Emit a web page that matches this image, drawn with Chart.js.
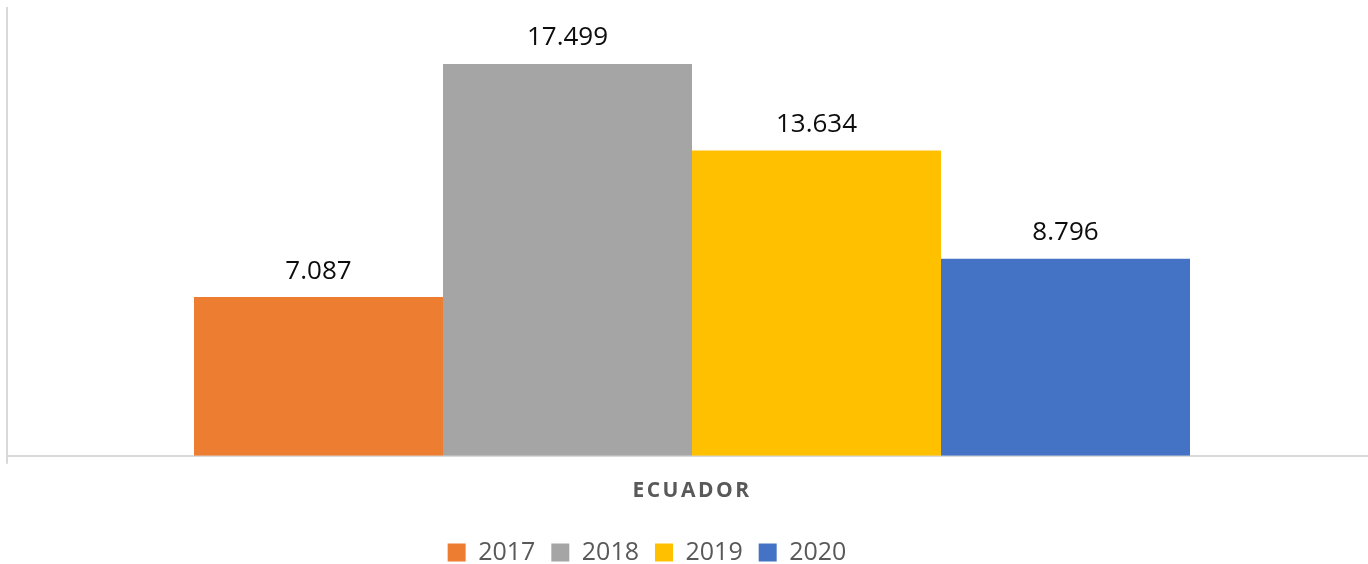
<!DOCTYPE html>
<html>
<head>
<meta charset="utf-8">
<script src="https://cdn.jsdelivr.net/npm/chart.js@4"></script>
<style>
  html, body { margin: 0; padding: 0; background: #fff; overflow: hidden; }
  #wrap { width: 1377px; height: 564px; position: relative; }
</style>
</head>
<body>
<div id="wrap"><canvas id="chartContainer"></canvas></div>
<script>
var categories = ['ECUADOR'];
var years = ['2017', '2018', '2019', '2020'];
var values = [7087, 17499, 13634, 8796];
var colors = ['#ED7D31', '#A5A5A5', '#FFC000', '#4472C4'];

function fmt(v) {
    return String(v).replace(/\B(?=(\d{3})+(?!\d))/g, '.');
}

// value labels above each bar
var barLabels = {
    id: 'barLabels',
    afterDatasetsDraw: function (chart) {
        var ctx = chart.ctx;
        ctx.save();
        ctx.font = '26px "Open Sans"';
        ctx.fillStyle = '#0d0d0d';
        ctx.textAlign = 'center';
        ctx.textBaseline = 'bottom';
        chart.data.datasets.forEach(function (ds, i) {
            var meta = chart.getDatasetMeta(i);
            meta.data.forEach(function (bar, j) {
                ctx.fillText(fmt(ds.data[j]), bar.x, bar.y - 13);
            });
        });
        ctx.restore();
    }
};

// excel puts the legend a bit left of centre and lower, and spaces out the category text
var tweaks = {
    id: 'tweaks',
    beforeLayout: function (chart) {
        var lg = chart.legend;
        if (lg && !lg._wrapped) {
            var f = lg.fit;
            lg.fit = function () {
                f.call(this);
                this.height -= 6;
            };
            lg._wrapped = true;
        }
    },
    afterLayout: function (chart) {
        chart.legend.left -= 45;
        chart.legend.right -= 45;
        chart.legend.top += 5;
        chart.legend.bottom += 5;
        var xs = chart.scales.x;
        if (!xs._wrapped) {
            var orig = xs.drawLabels;
            xs.drawLabels = function (area) {
                var c = this.ctx;
                c.save();
                c.letterSpacing = '2.5px';
                orig.call(this, area);
                c.restore();
            };
            xs._wrapped = true;
        }
    }
};

var datasets = years.map(function (y, i) {
    return {
        label: y,
        data: [values[i]],
        backgroundColor: colors[i],
        categoryPercentage: 0.727,
        barPercentage: 1
    };
});

var myChart = new Chart(document.getElementById('chartContainer'), {
    type: 'bar',
    data: { labels: categories, datasets: datasets },
    plugins: [barLabels, tweaks],
    options: {
        responsive: true,
        maintainAspectRatio: false,
        animation: false,
        layout: { padding: { left: 7, top: 8, right: 0, bottom: 0 } },
        scales: {
            x: {
                grid: { display: true, drawOnChartArea: false, drawTicks: true, tickLength: 8, color: '#d9d9d9', lineWidth: 2 },
                border: { display: true, color: '#d9d9d9', width: 2 },
                ticks: {
                    color: '#595959',
                    font: { family: '"Open Sans"', size: 21, weight: 'bold' },
                    padding: 15
                }
            },
            y: {
                min: 0,
                max: 20000,
                grid: { display: false, drawTicks: false },
                border: { display: true, color: '#d9d9d9', width: 2 },
                ticks: { display: false }
            }
        },
        plugins: {
            legend: {
                position: 'bottom',
                labels: {
                    boxWidth: 18,
                    boxHeight: 18,
                    padding: 16,
                    color: '#595959',
                    font: { family: '"Open Sans"', size: 25 }
                }
            },
            tooltip: { enabled: false }
        }
    }
});
</script>
</body>
</html>
